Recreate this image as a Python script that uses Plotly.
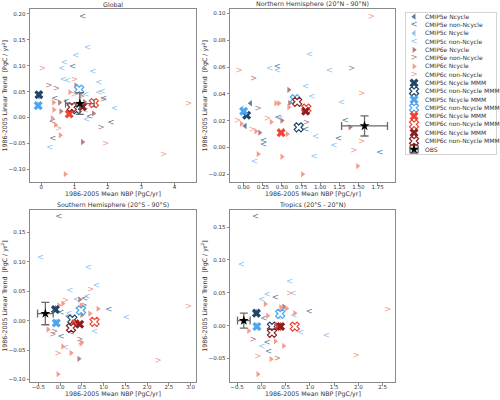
import plotly.graph_objects as go

FONT = "DejaVu Sans"

# ---------------- labels ----------------
SERIES_LABELS = ["CMIP5e Ncycle", "CMIP5e non-Ncycle", "CMIP5c Ncycle", "CMIP5c non-Ncycle",
                 "CMIP6e Ncycle", "CMIP6e non-Ncycle", "CMIP6c Ncycle", "CMIP6c non-Ncycle"]
MMM_LABELS = ["CMIP5c Ncycle MMM", "CMIP5c non-Ncycle MMM", "CMIP5c Ncycle MMM", "CMIP5c non-Ncycle MMM",
              "CMIP6c Ncycle MMM", "CMIP6c non-Ncycle MMM", "CMIP6c Ncycle MMM", "CMIP6c non-Ncycle MMM"]
OBS_LABEL = "OBS"
PANEL_TITLES = ["Global", "Northern Hemisphere (20°N - 90°N)",
                "Southern Hemisphere (20°S - 90°S)", "Tropics (20°S - 20°N)"]
X_TITLE = "1986-2005 Mean NBP [PgC/yr]"
Y_TITLE = "1986-2005 Linear Trend  [PgC / yr<sup>2</sup>]"

# ---------------- data: (mean NBP, linear trend) ----------------
# Global
GLB_5E_N = [(-0.05, 0.047), (-0.09, 0.041)]
GLB_5E_NN = [(1.24, 0.194), (0.94, 0.098), (0.41, 0.036), (1.87, 0.036), (0.75, 0.030),
             (0.33, -0.008), (1.45, 0.002), (2.10, -0.010), (0.35, -0.042)]
GLB_5C_N = [(-0.11, 0.025), (-0.07, 0.021)]
GLB_5C_NN = [(1.39, 0.135), (1.04, 0.119), (0.69, 0.105), (0.62, 0.094), (1.55, 0.088),
             (0.66, 0.073), (0.79, 0.070), (1.73, 0.067), (1.83, 0.050), (1.73, 0.047),
             (1.34, 0.044), (1.32, 0.012), (2.20, 0.017), (1.36, -0.005), (0.26, -0.058)]
GLB_6E_N = [(1.04, 0.062), (0.55, 0.029), (0.59, 0.012), (1.57, 0.008), (1.24, -0.047), (1.30, 0.030)]
GLB_6E_NN = [(0.23, 0.061), (0.45, 0.055), (1.87, 0.034), (1.20, 0.040), (1.80, -0.019)]
GLB_6C_N = [(0.86, 0.049), (0.37, 0.029), (0.38, 0.015), (0.33, -0.001), (0.43, -0.014),
            (0.57, -0.034), (0.72, -0.109), (1.00, 0.020)]
GLB_6C_NN = [(0.03, 0.093), (0.99, 0.073), (0.99, 0.044), (0.52, -0.021), (1.93, -0.051),
             (3.67, -0.071), (4.42, 0.027)]
GLB_MMM_X = [-0.07, 1.06, -0.09, 1.14, 0.84, 1.58, 1.24, 0.92]
GLB_MMM_Y = [0.044, 0.016, 0.023, 0.054, 0.007, 0.028, 0.021, 0.020]
GLB_OBS = [1.16, 0.027, 0.43, 0.021]  # x, y, x-error, y-error

# Northern Hemisphere
NH_5E_N = [(0.09, 0.033), (0.02, 0.016)]
NH_5E_NN = [(0.44, 0.060), (0.45, 0.022), (0.26, 0.0045), (0.26, 0.0015), (0.81, 0.013),
            (1.24, 0.006), (1.33, 0.020), (1.78, -0.004)]
NH_5C_N = [(-0.02, 0.029), (0.02, 0.025)]
NH_5C_NN = [(0.34, 0.059), (0.44, 0.057), (0.86, 0.069), (1.12, 0.057), (0.81, 0.045),
            (0.89, 0.038), (1.28, 0.033), (0.47, 0.021), (0.94, 0.008), (1.18, 0.001),
            (0.14, -0.011), (0.92, -0.007)]
NH_6E_N = [(0.59, 0.043), (0.60, 0.033), (0.50, 0.020), (0.21, 0.011), (1.39, 0.015)]
NH_6E_NN = [(0.13, 0.051), (1.41, 0.059), (0.19, 0.029), (0.82, 0.018)]
NH_6C_N = [(0.42, 0.033), (0.46, 0.033), (0.59, 0.030), (-0.03, 0.0176), (0.36, 0.019),
           (0.16, 0.012), (0.57, 0.010), (0.19, -0.005), (0.50, -0.007), (0.77, -0.020),
           (1.49, -0.014)]
NH_6C_NN = [(1.67, 0.0975), (-0.06, 0.057), (1.54, 0.040), (-0.08, 0.0196), (0.31, 0.021),
            (0.11, 0.013), (1.54, 0.004), (1.44, -0.0025)]
NH_MMM_X = [0.04, 0.72, 0.00, 0.67, 0.49, 0.82, 0.81, 0.70]
NH_MMM_Y = [0.024, 0.015, 0.027, 0.036, 0.011, 0.029, 0.027, 0.034]
NH_OBS = [1.58, 0.016, 0.30, 0.0075]

# Southern Hemisphere
SH_5E_N = [(-0.13, 0.021), (-0.09, 0.017)]
SH_5E_NN = [(-0.03, 0.1756), (0.56, 0.0375), (1.12, 0.019), (0.02, 0.013), (0.18, 0.006),
            (0.02, -0.027), (0.25, -0.020)]
SH_5C_N = [(-0.11, -0.002), (-0.07, -0.006)]
SH_5C_NN = [(-0.45, 0.106), (0.65, 0.090), (0.83, 0.059), (0.22, 0.051), (0.62, 0.040),
            (0.37, 0.035), (0.40, 0.020), (0.20, 0.012), (1.52, 0.005), (0.79, -0.019),
            (0.12, -0.046)]
SH_6E_N = [(0.45, 0.036), (0.50, 0.010), (0.43, -0.065)]
SH_6E_NN = [(-0.13, -0.019), (-0.17, -0.025), (0.45, -0.032), (0.48, -0.038), (0.55, 0.025)]
SH_6C_N = [(0.06, 0.029), (-0.03, 0.026), (0.48, 0.026), (0.87, 0.020), (0.68, 0.012),
           (-0.28, -0.015), (0.48, -0.039), (0.06, -0.044), (0.25, -0.055), (-0.05, -0.091)]
SH_6C_NN = [(0.70, 0.052), (0.12, 0.034), (-0.05, -0.056), (2.25, -0.069), (2.95, 0.023)]
SH_MMM_X = [-0.11, 0.28, -0.09, 0.48, 0.35, 0.79, 0.45, 0.25]
SH_MMM_Y = [0.019, 0.0017, -0.004, 0.0176, -0.005, -0.002, -0.006, -0.0125]
SH_OBS = [-0.34, 0.012, 0.18, 0.019]

# Tropics
TR_5E_N = [(-0.12, 0.021), (-0.08, 0.017)]
TR_5E_NN = [(-0.12, 0.165), (0.29, 0.042), (0.99, 0.021), (0.05, 0.010), (0.12, -0.027),
            (0.15, -0.040)]
TR_5C_N = [(-0.11, 0.0005), (-0.07, -0.0035)]
TR_5C_NN = [(-0.41, 0.093), (0.58, 0.066), (0.65, 0.049), (0.12, 0.047), (0.01, 0.039),
            (0.35, 0.012), (0.67, 0.015), (0.81, -0.011), (1.34, -0.016), (0.01, -0.032)]
TR_6E_N = [(0.46, 0.029), (0.35, 0.020)]
TR_6E_NN = [(-0.17, -0.022), (0.33, -0.051), (0.45, 0.025)]
TR_6C_N = [(0.08, 0.033), (0.40, 0.028), (0.52, 0.026), (0.69, 0.019), (0.13, 0.015),
           (-0.26, -0.008), (0.29, -0.024), (0.46, -0.031), (0.20, -0.051), (-0.07, -0.074)]
TR_6C_NN = [(0.58, 0.048), (2.60, 0.024), (1.95, -0.046), (-0.07, -0.047)]
TR_MMM_X = [-0.10, 0.22, -0.09, 0.39, 0.35, 0.69, 0.40, 0.22]
TR_MMM_Y = [0.019, -0.0015, -0.0015, 0.018, -0.0015, -0.0015, -0.0015, -0.011]
TR_OBS = [-0.36, 0.0076, 0.13, 0.0115]

# ---------------- styles ----------------
DARK, LIGHT, BROWN, SALMON = "#5d7d9e", "#8ec2f2", "#b47f7f", "#f59c8c"
SERIES_STYLE = [("triangle-left", DARK), ("<", DARK), ("triangle-left", LIGHT), ("<", LIGHT),
                ("triangle-right", BROWN), (">", BROWN), ("triangle-right", SALMON), (">", SALMON)]
MMM_COLORS = ["#1f4668", "#1f4668", "#4ea5ef", "#4ea5ef", "#ee4433", "#ee4433", "#8c1f1f", "#8c1f1f"]
MMM_OPEN = [False, True, False, True, False, True, False, True]
TRI_SIZE = 5.5
CHEV_SIZE = 8.5
X_SIZE = 8
STAR_SIZE = 7.5
FRAME = "#8a8a8a"
TXT = "#333333"

PANELS = [
    dict(series=[GLB_5E_N, GLB_5E_NN, GLB_5C_N, GLB_5C_NN, GLB_6E_N, GLB_6E_NN, GLB_6C_N, GLB_6C_NN],
         mx=GLB_MMM_X, my=GLB_MMM_Y, obs=GLB_OBS, xd=1, xf="d", yd=0.05, yf=".2f",
         dom_x=(30, 196), dom_y=(9, 182)),
    dict(series=[NH_5E_N, NH_5E_NN, NH_5C_N, NH_5C_NN, NH_6E_N, NH_6E_NN, NH_6C_N, NH_6C_NN],
         mx=NH_MMM_X, my=NH_MMM_Y, obs=NH_OBS, xd=0.25, xf=".2f", yd=0.02, yf=".2f",
         dom_x=(230, 395), dom_y=(9, 182)),
    dict(series=[SH_5E_N, SH_5E_NN, SH_5C_N, SH_5C_NN, SH_6E_N, SH_6E_NN, SH_6C_N, SH_6C_NN],
         mx=SH_MMM_X, my=SH_MMM_Y, obs=SH_OBS, xd=0.5, xf=".1f", yd=0.05, yf=".2f",
         dom_x=(30, 196), dom_y=(209.5, 382)),
    dict(series=[TR_5E_N, TR_5E_NN, TR_5C_N, TR_5C_NN, TR_6E_N, TR_6E_NN, TR_6C_N, TR_6C_NN],
         mx=TR_MMM_X, my=TR_MMM_Y, obs=TR_OBS, xd=0.5, xf=".1f", yd=0.05, yf=".2f",
         dom_x=(230, 395), dom_y=(209.5, 382)),
]

W, H = 500, 400


def series_trace(kind, color, xs, ys, xa, ya):
    if kind in ("<", ">"):
        return go.Scatter(x=xs, y=ys, mode="text", text=[kind] * len(xs),
                          textposition="middle center",
                          textfont=dict(family=FONT, size=CHEV_SIZE, color=color),
                          xaxis=xa, yaxis=ya, showlegend=False, hoverinfo="skip", cliponaxis=False)
    return go.Scatter(x=xs, y=ys, mode="markers",
                      marker=dict(symbol=kind, size=TRI_SIZE, color=color, line=dict(width=0)),
                      xaxis=xa, yaxis=ya, showlegend=False, hoverinfo="skip", cliponaxis=False)


def mmm_trace(xs, ys, color, is_open, xa, ya):
    marker = dict(symbol="x", size=X_SIZE,
                  color="white" if is_open else color,
                  line=dict(width=1.2 if is_open else 0, color=color))
    return go.Scatter(x=xs, y=ys, mode="markers", marker=marker, xaxis=xa, yaxis=ya,
                      showlegend=False, hoverinfo="skip", cliponaxis=False)


def obs_trace(x, y, xe, ye, xa, ya):
    return go.Scatter(x=[x], y=[y], mode="markers",
                      marker=dict(symbol="star", size=STAR_SIZE, color="black", line=dict(width=0)),
                      error_x=dict(type="data", array=[xe], color="#6a6a6a", thickness=1.3, width=4),
                      error_y=dict(type="data", array=[ye], color="#6a6a6a", thickness=1.3, width=4),
                      xaxis=xa, yaxis=ya, showlegend=False, hoverinfo="skip", cliponaxis=False)


fig = go.Figure()
layout = dict(width=W, height=H, margin=dict(l=0, r=0, t=0, b=0),
              paper_bgcolor="white", plot_bgcolor="white", showlegend=False,
              font=dict(family=FONT, color=TXT))
annotations = []

for k, p in enumerate(PANELS):
    n = k + 1
    xa, ya = f"x{n}", f"y{n}"
    allx, ally = [], []
    for (kind, color), pts in zip(SERIES_STYLE, p["series"]):
        xs = [q[0] for q in pts]
        ys = [q[1] for q in pts]
        allx += xs
        ally += ys
        fig.add_trace(series_trace(kind, color, xs, ys, xa, ya))
    for i in range(8):
        fig.add_trace(mmm_trace([p["mx"][i]], [p["my"][i]], MMM_COLORS[i], MMM_OPEN[i], xa, ya))
    allx += p["mx"]
    ally += p["my"]
    ox, oy, oxe, oye = p["obs"]
    fig.add_trace(obs_trace(ox, oy, oxe, oye, xa, ya))
    allx += [ox - oxe, ox + oxe]
    ally += [oy - oye, oy + oye]

    x0, x1 = min(allx), max(allx)
    y0, y1 = min(ally), max(ally)
    mxr, myr = 0.05 * (x1 - x0), 0.05 * (y1 - y0)
    dx = (p["dom_x"][0] / W, p["dom_x"][1] / W)
    dy = (1 - p["dom_y"][1] / H, 1 - p["dom_y"][0] / H)
    common = dict(showline=True, mirror=True, linecolor=FRAME, linewidth=1,
                  ticks="outside", ticklen=2.5, tickwidth=1, tickcolor=FRAME,
                  showgrid=False, zeroline=False, automargin=False,
                  tickfont=dict(family=FONT, size=5.5, color=TXT))
    layout[f"xaxis{n}"] = dict(common, domain=dx, anchor=ya, range=[x0 - mxr, x1 + mxr],
                               tick0=0, dtick=p["xd"], tickformat=p["xf"], ticklabelstandoff=-3)
    layout[f"yaxis{n}"] = dict(common, domain=dy, anchor=xa, range=[y0 - myr, y1 + myr],
                               tick0=0, dtick=p["yd"], tickformat=p["yf"])

    cx = (dx[0] + dx[1]) / 2
    annotations.append(dict(text=PANEL_TITLES[k], x=cx, y=dy[1] + 4.5 / H, xref="paper", yref="paper",
                            xanchor="center", yanchor="middle", showarrow=False,
                            font=dict(family=FONT, size=6.3, color=TXT)))
    annotations.append(dict(text=X_TITLE, x=cx, y=dy[0] - 12 / H, xref="paper", yref="paper",
                            xanchor="center", yanchor="middle", showarrow=False,
                            font=dict(family=FONT, size=6.3, color=TXT)))
    annotations.append(dict(text=Y_TITLE, x=(p["dom_x"][0] - 25) / W, y=(dy[0] + dy[1]) / 2,
                            xref="paper", yref="paper", xanchor="center", yanchor="middle",
                            textangle=-90, showarrow=False,
                            font=dict(family=FONT, size=6.3, color=TXT)))

# ---------------- legend (drawn in its own hidden axes) ----------------
LEG_LABELS = SERIES_LABELS + MMM_LABELS + [OBS_LABEL]
NL = len(LEG_LABELS)
ICON_X, TEXT_X = 0.095, 0.19
for i in range(NL):
    yy = -i
    if i < 8:
        kind, color = SERIES_STYLE[i]
        fig.add_trace(series_trace(kind, color, [ICON_X], [yy], "x5", "y5"))
    elif i < 16:
        j = i - 8
        fig.add_trace(mmm_trace([ICON_X], [yy], MMM_COLORS[j], MMM_OPEN[j], "x5", "y5"))
    else:
        fig.add_trace(obs_trace(ICON_X, yy, 0.045, 0.45, "x5", "y5"))
    annotations.append(dict(text=LEG_LABELS[i], x=TEXT_X, y=yy, xref="x5", yref="y5",
                            xanchor="left", yanchor="middle", showarrow=False,
                            font=dict(family=FONT, size=6, color=TXT)))

leg_axis = dict(showline=True, mirror=True, linecolor="#d4d4d4", linewidth=1, ticks="",
                showticklabels=False, showgrid=False, zeroline=False, fixedrange=True)
layout["xaxis5"] = dict(leg_axis, domain=(405.5 / W, 495.5 / W), anchor="y5", range=[0, 1])
layout["yaxis5"] = dict(leg_axis, domain=(1 - 154 / H, 1 - 12.7 / H), anchor="x5",
                        range=[-(NL - 1) - 0.57, 0.48])

layout["annotations"] = annotations
fig.update_layout(**layout)
fig.write_html("out.html", config={"displayModeBar": False},
               post_script="document.body.style.margin='0px';document.body.style.padding='0px';")
